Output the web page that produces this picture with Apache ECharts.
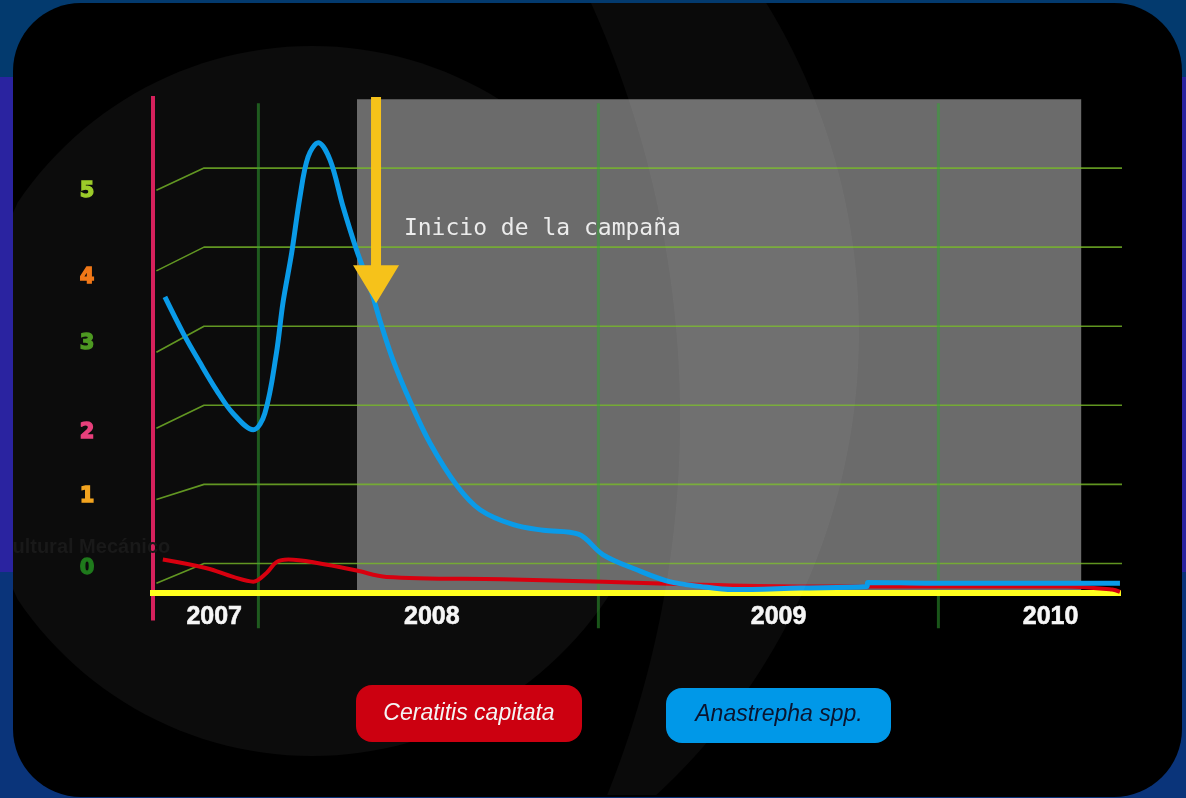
<!DOCTYPE html>
<html>
<head>
<meta charset="utf-8">
<script src="https://cdn.jsdelivr.net/npm/echarts@6/dist/echarts.min.js"></script>
<style>
  html, body { margin: 0; padding: 0; background: #033a6e; }
  #chart { width: 1186px; height: 798px; }
</style>
</head>
<body>
<div id="chart"></div>
<script>
// ---- data: time in fractional years, captures on a 0–5 scale ----
const years = ['2007', '2008', '2009', '2010'];
const yearLabelAt = [2007.87, 2008.51, 2009.53, 2010.33];
const yearBounds = [2008, 2009, 2010];

const levels = [0, 1, 2, 3, 4, 5];
const levelLabels = ['0', '1', '2', '3', '4', '5'];
const levelLabelAt = [-0.06, 0.85, 1.65, 2.78, 3.62, 4.70];
const levelSlantDrop = [0.25, 0.19, 0.29, 0.33, 0.30, 0.28];

const anastrephaT = [2007.725, 2007.779, 2007.828, 2007.877, 2007.925, 2007.985, 2008.019, 2008.053,
  2008.072, 2008.098, 2008.122, 2008.146, 2008.176, 2008.211, 2008.249, 2008.289, 2008.328, 2008.357,
  2008.396, 2008.446, 2008.505, 2008.583, 2008.652, 2008.750, 2008.838, 2008.941, 2009.014, 2009.113,
  2009.209, 2009.299, 2009.396, 2009.593, 2009.789, 2009.793, 2009.984, 2010.534];
const anastrephaV = [3.37, 2.91, 2.54, 2.19, 1.90, 1.69, 1.90, 2.66,
  3.29, 3.93, 4.63, 5.14, 5.32, 5.10, 4.51, 3.96, 3.50, 3.08,
  2.57, 2.05, 1.52, 0.99, 0.68, 0.49, 0.42, 0.37, 0.11, -0.08,
  -0.23, -0.29, -0.33, -0.31, -0.29, -0.24, -0.25, -0.25];

const ceratitisT = [2007.719, 2007.848, 2007.926, 2007.985, 2008.024, 2008.054, 2008.088, 2008.181,
  2008.289, 2008.377, 2008.719, 2009.014, 2009.299, 2009.593, 2010.378, 2010.511, 2010.534];
const ceratitisV = [0.05, -0.06, -0.17, -0.23, -0.12, 0.02, 0.05, 0.00,
  -0.09, -0.17, -0.20, -0.23, -0.27, -0.29, -0.29, -0.33, -0.36];

const campaignStart = 2008.29;
const campaignEnd = 2010.42;
const campaignArrowAt = 2008.346;
const campaignText = 'Inicio de la campaña';
const seriesNames = ['Ceratitis capitata', 'Anastrepha spp.'];

// ---- axis frame ----
const X_MIN = 2007.69, X_MAX = 2010.54;
const Y_MIN = -0.5, Y_MAX = 6;
const BASE_V = -0.374;          // yellow base line
const AXIS_TOP = 5.91, AXIS_BOTTOM = -0.72;
const BOUND_TOP = 5.82, BOUND_BOTTOM = -0.82;
const BOX_TOP = 5.87, BOX_BOTTOM = -0.35;
const YEAR_LABEL_V = -0.68;
const LEVEL_LABEL_T = 2007.496;

const levelColors = ['#1f7a1c', '#f3a41f', '#e8407c', '#4e9a22', '#f07818', '#9ccc2a'];

// grid lines: short slanted lead-in from the axis, then horizontal
const gridData = [];
levels.forEach((lv, i) => {
  gridData.push([X_MIN + 0.01, lv - levelSlantDrop[i]]);
  gridData.push([2007.84, lv]);
  gridData.push([2010.54, lv]);
  gridData.push(['-', '-']);
});

const boundData = [];
yearBounds.forEach(t => {
  boundData.push([t, BOUND_TOP]);
  boundData.push([t, BOUND_BOTTOM]);
  boundData.push(['-', '-']);
});

const zip = (a, b) => a.map((v, i) => [v, b[i]]);

// ---- slide backdrop shapes (pixel space) ----
// soft disc behind the plot, kept inside the black panel
function discPoints(cx, cy, r, xMin) {
  const pts = [];
  for (let a = 0; a < 360; a += 2) {
    const rad = a * Math.PI / 180;
    pts.push([Math.max(xMin, cx + r * Math.cos(rad)), cy + r * Math.sin(rad)]);
  }
  return pts;
}
// crescent band between two offset circles, limited to the panel height
function crescentPoints() {
  const inner = { cx: -332, cy: 418, r: 1012 };
  const outer = { cx: 229, cy: 332, r: 630 };
  const left = [], right = [];
  for (let y = 3; y <= 797; y += 4) {
    const xi = inner.cx + Math.sqrt(Math.max(0, inner.r * inner.r - (y - inner.cy) ** 2));
    const xo = outer.cx + Math.sqrt(Math.max(0, outer.r * outer.r - (y - outer.cy) ** 2));
    left.push([xi, y]);
    right.push([Math.max(xi, xo), y]);
  }
  return left.concat(right.reverse());
}

// text placed at a data coordinate
function textItem(text, font, fill, strokeWidth) {
  return (params, api) => {
    const p = api.coord([api.value(0), api.value(1)]);
    const i = api.value(2);
    const color = Array.isArray(fill) ? fill[i] : fill;
    return { type: 'text', x: p[0], y: p[1], style: {
      text: text[i], fill: color, stroke: strokeWidth ? color : null, lineWidth: strokeWidth || 0,
      align: 'center', verticalAlign: 'middle', font: font } };
  };
}

const chart = echarts.init(document.getElementById('chart'));

const option = {
  animation: false,
  backgroundColor: 'transparent',
  grid: { left: 153, top: 89, width: 969, height: 514 },
  xAxis: { type: 'value', min: X_MIN, max: X_MAX, show: false },
  yAxis: { type: 'value', min: Y_MIN, max: Y_MAX, show: false },
  graphic: [
    // slide frame
    { type: 'rect', z: -100, shape: { x: 0, y: 0, width: 1186, height: 798 }, style: { fill: '#033a6e' } },
    { type: 'rect', z: -100, shape: { x: 0, y: 77, width: 1186, height: 495 }, style: { fill: '#2a23a0' } },
    { type: 'rect', z: -100, shape: { x: 0, y: 572, width: 1186, height: 226 }, style: { fill: '#0a347a' } },
    { type: 'rect', z: -99, shape: { x: 13, y: 3, width: 1169, height: 794, r: 68 }, style: { fill: '#000000' } },
    // soft disc
    { type: 'polygon', z: -98, shape: { points: discPoints(312, 401, 355, 13) }, style: { fill: '#0c0c0c' } },
    // crescent band, laid over the campaign box
    { type: 'polygon', z: 40, silent: true, shape: { points: crescentPoints() }, style: { fill: 'rgba(255,255,255,0.04)' } },
    // faint side caption
    { type: 'text', z: 50, left: -2, top: 537, style: { text: 'Cultural Mecánico', fill: '#191919', font: 'bold 20px "Liberation Sans", Arial, sans-serif' } },
    // frame edge over the caption
    { type: 'rect', z: 60, shape: { x: 0, y: 77, width: 13, height: 495 }, style: { fill: '#2a23a0' } },
    // legend pills
    { type: 'rect', z: 60, shape: { x: 356, y: 685, width: 226, height: 57, r: 16 }, style: { fill: '#cc0010' } },
    { type: 'text', z: 61, x: 469, y: 714, style: { text: seriesNames[0], fill: '#f4f4f4', align: 'center', verticalAlign: 'middle', font: 'italic 23px "Liberation Sans", Arial, sans-serif' } },
    { type: 'rect', z: 60, shape: { x: 666, y: 688, width: 225, height: 55, r: 16 }, style: { fill: '#0098e8' } },
    { type: 'text', z: 61, x: 779, y: 715, style: { text: seriesNames[1], fill: '#0a1530', align: 'center', verticalAlign: 'middle', font: 'italic 23px "Liberation Sans", Arial, sans-serif' } }
  ],
  series: [
    {
      // campaign period
      type: 'custom', z: 1, silent: true, clip: false,
      data: [[campaignStart, campaignEnd]],
      renderItem: (params, api) => {
        const a = api.coord([api.value(0), BOX_TOP]);
        const b = api.coord([api.value(1), BOX_BOTTOM]);
        return { type: 'rect', shape: { x: a[0], y: a[1], width: b[0] - a[0], height: b[1] - a[1] }, style: { fill: '#6b6b6b' } };
      }
    },
    {
      type: 'line', z: 2, silent: true, clip: false, symbol: 'none', connectNulls: false,
      data: gridData,
      lineStyle: { color: 'rgba(120,186,40,0.8)', width: 1.6 }
    },
    {
      type: 'line', z: 2, silent: true, clip: false, symbol: 'none', connectNulls: false,
      data: boundData,
      lineStyle: { color: 'rgba(50,170,50,0.5)', width: 3 }
    },
    {
      // vertical axis bar
      type: 'line', z: 3, silent: true, clip: false, symbol: 'none',
      data: [[X_MIN, AXIS_TOP], [X_MIN, AXIS_BOTTOM]],
      lineStyle: { color: '#d6215c', width: 4 }
    },
    {
      // base line
      type: 'line', z: 3, silent: true, clip: false, symbol: 'none',
      data: [[2007.572, BASE_V], [2010.537, BASE_V]],
      lineStyle: { color: '#ffff1e', width: 6 }
    },
    {
      name: seriesNames[0], type: 'line', z: 4, clip: false, symbol: 'none', smooth: 0.35,
      data: zip(ceratitisT, ceratitisV),
      lineStyle: { color: '#d8000f', width: 4 }
    },
    {
      name: seriesNames[1], type: 'line', z: 5, clip: false, symbol: 'none', smooth: 0.35,
      data: zip(anastrephaT, anastrephaV),
      lineStyle: { color: '#0a9be8', width: 5 }
    },
    {
      // campaign start arrow and caption
      type: 'custom', z: 6, silent: true, clip: false,
      data: [[campaignArrowAt, 5.90, 3.77, 3.29]],
      renderItem: (params, api) => {
        const t = api.value(0);
        const top = api.coord([t, api.value(1)]);
        const neck = api.coord([t, api.value(2)]);
        const tip = api.coord([t, api.value(3)]);
        const sw = 5, hw = 23;
        const txt = api.coord([2008.428, 4.23]);
        return {
          type: 'group',
          children: [
            { type: 'polygon', shape: { points: [
              [top[0] - sw, top[1]], [top[0] + sw, top[1]], [neck[0] + sw, neck[1]], [neck[0] + hw, neck[1]],
              [tip[0], tip[1]], [neck[0] - hw, neck[1]], [neck[0] - sw, neck[1]]] },
              style: { fill: '#f6c21a' } },
            { type: 'text', x: txt[0], y: txt[1], style: { text: campaignText, fill: '#ececec',
              verticalAlign: 'middle', font: '23px "DejaVu Sans Mono", monospace' } }
          ]
        };
      }
    },
    {
      // year labels
      type: 'custom', z: 7, silent: true, clip: false,
      data: years.map((y, i) => [yearLabelAt[i], YEAR_LABEL_V, i]),
      renderItem: textItem(years, 'bold 25px "Liberation Sans", Arial, sans-serif', '#f6f6f6', 0.6)
    },
    {
      // level labels
      type: 'custom', z: 7, silent: true, clip: false,
      data: levels.map((lv, i) => [LEVEL_LABEL_T, levelLabelAt[i], i]),
      renderItem: textItem(levelLabels, 'bold 21px "DejaVu Sans", sans-serif', levelColors, 1.4)
    }
  ]
};

chart.setOption(option);
</script>
</body>
</html>
